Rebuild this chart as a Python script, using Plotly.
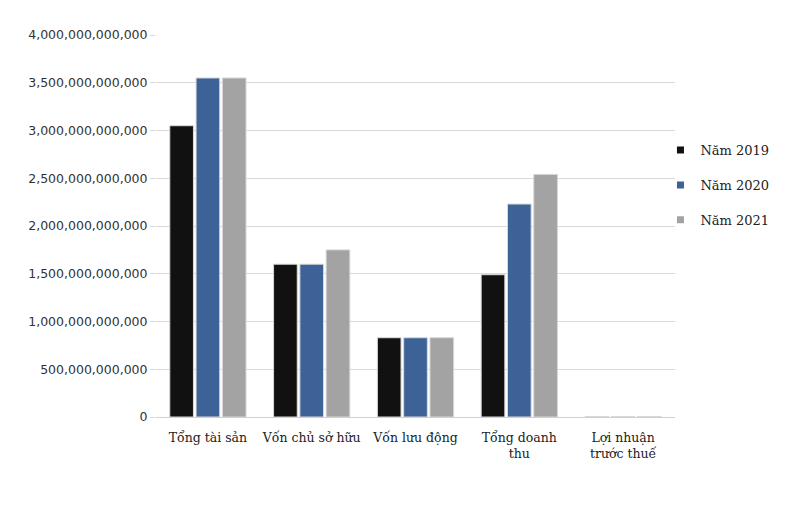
import plotly.graph_objects as go

categories = ["Tổng tài sản", "Vốn chủ sở hữu", "Vốn lưu động", "Tổng doanh<br>thu", "Lợi nhuận<br>trước thuế"]
series_names = ["Năm 2019", "Năm 2020", "Năm 2021"]
values_2019 = [3050e9, 1600e9, 830e9, 1490e9, 5e9]
values_2020 = [3550e9, 1600e9, 830e9, 2230e9, 5e9]
values_2021 = [3550e9, 1750e9, 830e9, 2540e9, 5e9]
tick_vals = [0, 500e9, 1000e9, 1500e9, 2000e9, 2500e9, 3000e9, 3500e9, 4000e9]
colors = ["#111111", "#3c6298", "#a3a3a3"]

fig = go.Figure()
for i, (name, vals) in enumerate(zip(series_names, [values_2019, values_2020, values_2021])):
    fig.add_trace(go.Bar(
        x=categories, y=vals, name=name, showlegend=False,
        marker=dict(color=colors[i], line=dict(color="#d8d8d8", width=1)),
    ))
for i, name in enumerate(series_names):
    fig.add_trace(go.Scatter(
        x=[None], y=[None], mode="markers", name=name, legendgroup=name,
        marker=dict(symbol="square", size=7, color=colors[i]),
    ))

fig.update_layout(
    width=800, height=509,
    barmode="group", bargap=0.24, bargroupgap=0.1,
    plot_bgcolor="white", paper_bgcolor="white",
    margin=dict(l=148, r=133, t=27, b=100),
    font=dict(family="DejaVu Serif", color="#222222"),
    legend=dict(x=0.972, y=0.738, xanchor="left", yanchor="top",
                font=dict(family="DejaVu Serif", size=13, color="#222222"),
                tracegroupgap=15, itemwidth=30, bgcolor="rgba(0,0,0,0)"),
    showlegend=True,
)
fig.update_yaxes(
    range=[0, 4000e9], tickvals=tick_vals, tickformat=",d",
    showgrid=True, gridcolor="#d9d9d9", gridwidth=1,
    ticks="outside", ticklen=5, tickcolor="#d9d9d9",
    tickfont=dict(family="DejaVu Sans", size=12.5, color="#333333"),
    zeroline=False, showline=False,
)
fig.update_xaxes(
    showline=True, linecolor="#d0d0d0", linewidth=1,
    tickfont=dict(family="DejaVu Serif", size=12.5, color="#222222"),
    ticks="", ticklabelstandoff=9,
)

fig.write_html("out.html")
